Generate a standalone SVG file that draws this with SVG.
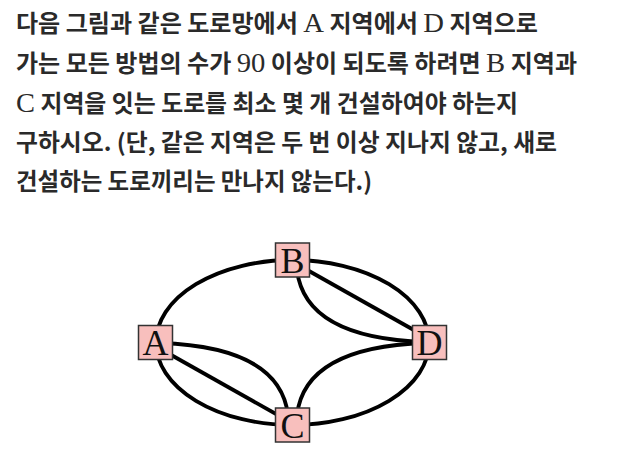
<svg xmlns="http://www.w3.org/2000/svg" width="622" height="462" viewBox="0 0 622 462">
<style>
.q{font-family:"Noto Sans CJK KR","Noto Sans",sans-serif;font-size:23.5px;font-weight:700;fill:#2a2a2a}
.m{font-family:"Liberation Serif",serif;font-weight:400;font-size:28px}
.e{fill:none;stroke:#000;stroke-width:3.8}
.box{fill:#f8bfbd;stroke:#333;stroke-width:1.5}
.lb{font-family:"Liberation Serif",serif;font-size:36px;fill:#111;text-anchor:middle}
</style>
<rect width="622" height="462" fill="#fff"/>
<g id="question">
<text class="q" x="16" y="32" textLength="522" lengthAdjust="spacingAndGlyphs">다음 그림과 같은 도로망에서 <tspan class="m">A</tspan> 지역에서 <tspan class="m">D</tspan> 지역으로</text>
<text class="q" x="16" y="72" textLength="561" lengthAdjust="spacingAndGlyphs">가는 모든 방법의 수가 <tspan class="m">90</tspan> 이상이 되도록 하려면 <tspan class="m">B</tspan> 지역과</text>
<text class="q" x="16" y="112" textLength="502" lengthAdjust="spacingAndGlyphs"><tspan class="m">C</tspan> 지역을 잇는 도로를 최소 몇 개 건설하여야 하는지</text>
<text class="q" x="16" y="151" textLength="541" lengthAdjust="spacingAndGlyphs">구하시오. (단, 같은 지역은 두 번 이상 지나지 않고, 새로</text>
<text class="q" x="16" y="190" textLength="356" lengthAdjust="spacingAndGlyphs">건설하는 도로끼리는 만나지 않는다.)</text>
</g>
<g id="connectors">
<ellipse class="e" cx="292.5" cy="342.5" rx="136.5" ry="82.5"/>
<path class="e" d="M293 262 L428 338"/>
<path class="e" d="M297 270 Q305 338 425 342"/>
<path class="e" d="M157 347 L292 423"/>
<path class="e" d="M160 343 Q280 347 288 415"/>
<path class="e" d="M297 415 Q305 347 425 343"/>
</g>
<g id="node-A"><rect class="box" x="138.5" y="325.5" width="34" height="34"/><text class="lb" x="155.5" y="355">A</text></g>
<g id="node-B"><rect class="box" x="275.5" y="243" width="34" height="34"/><text class="lb" x="292.5" y="272.5">B</text></g>
<g id="node-C"><rect class="box" x="275.5" y="408" width="34" height="34"/><text class="lb" x="292.5" y="437.5">C</text></g>
<g id="node-D"><rect class="box" x="412.5" y="325.5" width="34" height="34"/><text class="lb" x="429.5" y="355">D</text></g>
</svg>
